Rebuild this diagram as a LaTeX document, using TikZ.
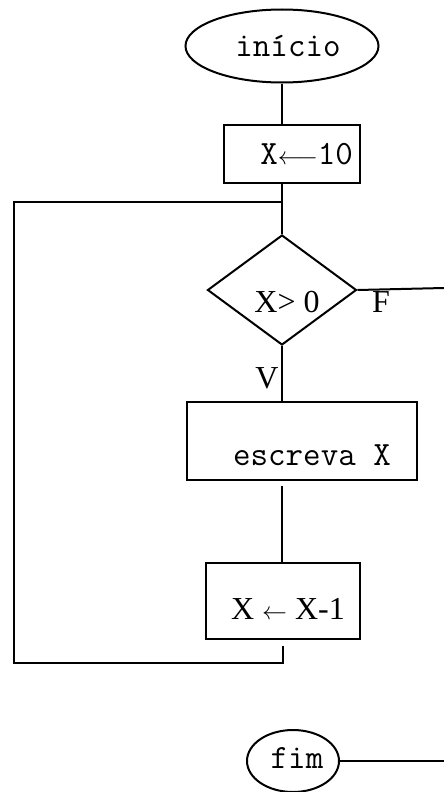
\documentclass[tikz,border=0pt]{standalone}
\usepackage{fontspec}
\setmainfont{Liberation Serif}
\usetikzlibrary{shapes.geometric}

\begin{document}
\begin{tikzpicture}[x=1pt,y=-1pt,line width=2pt,
    terminal/.style={draw,ellipse,inner sep=0pt},
    caixa/.style={draw,rectangle,inner sep=0pt},
    losango/.style={draw,diamond,inner sep=0pt},
    txt/.style={font=\ttfamily\fontsize{34}{40}\selectfont},
    rot/.style={font=\fontsize{32}{34}\selectfont}]
    \useasboundingbox (0,0) rectangle (444,792);
    % blocos
    \node[terminal,minimum width=193pt,minimum height=73pt] (inicio) at (282,46) {};
    \node[txt] (tinicio) at (288,46) {início};
    \node[caixa,minimum width=136pt,minimum height=58pt] (atrib) at (292,154) {};
    \node[txt,anchor=east,inner sep=0pt] (tatrib) at (354,154) {X$\longleftarrow$10};
    \node[losango,minimum width=149pt,minimum height=110pt] (teste) at (282,290) {};
    \node[rot] (tteste) at (287,302) {X> 0};
    \node[rot] (falso) at (381,302) {F};
    \node[rot] (verd) at (267,378) {V};
    \node[caixa,minimum width=230pt,minimum height=78pt] (escreva) at (302,441) {};
    \node[txt] (tescreva) at (312,455) {escreva X};
    \node[caixa,minimum width=154pt,minimum height=76pt] (decr) at (283,601) {};
    \node[rot] (tdecr) at (288,609) {X $\leftarrow$ X-1};
    \node[terminal,minimum width=92pt,minimum height=62pt] (fim) at (293,761) {};
    \node[txt] (tfim) at (297,758) {fim};
    % pontos do laco
    \coordinate (junta) at (282,202);
    \coordinate (cantoA) at (283,663);
    \coordinate (cantoB) at (14,663);
    \coordinate (cantoC) at (14,202);
    \coordinate (saidaF) at (444,288);
    \coordinate (saidaFim) at (444,761);
    % ligacoes
    \draw (inicio.south) -- (inicio.south |- atrib.north);
    \draw (inicio.south |- atrib.south) -- (teste.north);
    \draw (teste.south) -- (escreva.north -| teste.south);
    \draw[shorten <=5pt] (escreva.south -| teste.south) -- (decr.north -| teste.south);
    \draw[shorten <=6pt] (decr.south) -- (cantoA) -- (cantoB) -- (cantoC) -- (junta);
    \draw (teste.east) -- (saidaF);
    \draw (fim.east) -- (saidaFim);
\end{tikzpicture}
\end{document}
